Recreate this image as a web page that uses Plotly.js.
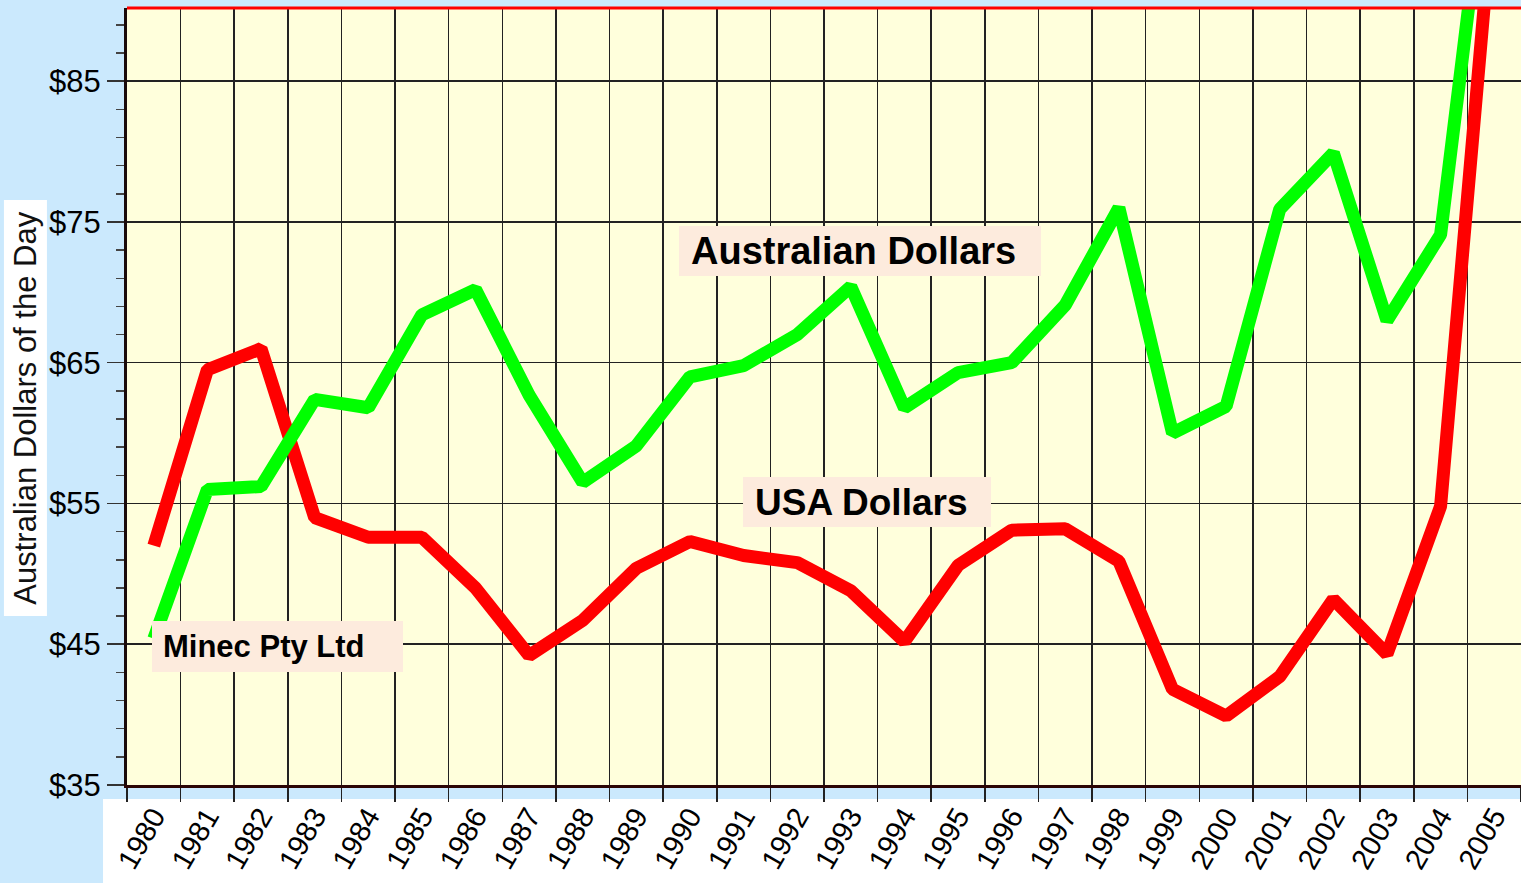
<!DOCTYPE html>
<html>
<head>
<meta charset="utf-8">
<script src="https://cdn.plot.ly/plotly-3.0.1.min.js"></script>
<style>
  html, body { margin: 0; padding: 0; background: #cbe9fd; }
  #chart { width: 1521px; height: 883px; }
  #chart .scatterlayer .js-line { stroke-linejoin: bevel !important; stroke-linecap: butt !important; }
</style>
</head>
<body>
<div id="chart"></div>
<script>
// Data
const years = ['1980','1981','1982','1983','1984','1985','1986','1987','1988','1989',
               '1990','1991','1992','1993','1994','1995','1996','1997','1998','1999',
               '2000','2001','2002','2003','2004','2005'];
const usaDollars = [52.0, 64.5, 66.0, 54.0, 52.6, 52.6, 49.0, 44.2, 46.7, 50.4,
                    52.3, 51.3, 50.8, 48.8, 45.2, 50.6, 53.1, 53.2, 50.9, 41.8,
                    39.9, 42.7, 48.2, 44.3, 54.8, 98.5];
const audDollars = [45.4, 56.0, 56.2, 62.4, 61.8, 68.4, 70.2, 62.7, 56.5, 59.1,
                    64.0, 64.8, 67.0, 70.4, 61.8, 64.3, 65.0, 69.1, 76.0, 60.0,
                    61.9, 75.9, 79.9, 68.0, 74.1, 105.0];

const labelAud = 'Australian Dollars';
const labelUsa = 'USA Dollars';
const labelCompany = 'Minec Pty Ltd';
const yTitle = 'Australian Dollars of the Day';

const FONT = 'Liberation Sans, Arial, Helvetica, sans-serif';

const traces = [
  {
    x: years, y: usaDollars, type: 'scatter', mode: 'lines', name: labelUsa,
    line: { color: '#ff0000', width: 13 }, hoverinfo: 'skip'
  },
  {
    x: years, y: audDollars, type: 'scatter', mode: 'lines', name: labelAud,
    line: { color: '#00ff00', width: 13 }, hoverinfo: 'skip'
  }
];

const annBg = '#fdebdd';

function box(x0, x1, y0, y1) {
  return { type: 'rect', xref: 'paper', yref: 'paper', x0: x0, x1: x1, y0: y0, y1: y1,
           fillcolor: annBg, line: { width: 0 }, layer: 'above' };
}

const layout = {
  width: 1521, height: 883,
  margin: { l: 127, r: 0, t: 8, b: 98, pad: 0 },
  paper_bgcolor: '#cbe9fd',
  plot_bgcolor: '#ffffdc',
  showlegend: false,
  hovermode: false,
  font: { family: FONT, color: '#000' },
  xaxis: {
    type: 'category',
    categoryorder: 'array', categoryarray: years,
    range: [-0.5, 25.5],
    tickson: 'boundaries',
    ticks: 'outside', ticklen: 14, tickwidth: 1.5, tickcolor: '#222',
    showgrid: true, gridcolor: '#222', gridwidth: 1.5,
    showline: true, linecolor: '#2a0505', linewidth: 3,
    tickangle: -60,
    tickfont: { family: FONT, size: 29, color: '#000' },
    zeroline: false, fixedrange: true
  },
  yaxis: {
    range: [35, 90.2],
    tickmode: 'linear', tick0: 35, dtick: 10,
    tickprefix: '$',
    ticks: 'outside', ticklen: 17, tickwidth: 1.5, tickcolor: '#333',
    minor: { tick0: 35, dtick: 2, ticks: 'outside', ticklen: 8, tickwidth: 1.5, tickcolor: '#444', showgrid: false },
    showgrid: true, gridcolor: '#222', gridwidth: 1.5,
    showline: true, linecolor: '#1a0a0a', linewidth: 3,
    tickfont: { family: FONT, size: 31, color: '#000' },
    ticklabelstandoff: 0,
    zeroline: false, fixedrange: true
  },
  shapes: [
    // white band behind the year labels
    { type: 'rect', xref: 'paper', yref: 'paper', x0: -0.0172, x1: 1.01, y0: -0.2, y1: -0.018,
      fillcolor: '#ffffff', line: { width: 0 }, layer: 'below' },
    // red top border
    { type: 'line', xref: 'paper', yref: 'paper', x0: 0, x1: 1, y0: 1, y1: 1,
      line: { color: '#ff0000', width: 3 } },
    // label boxes
    box(0.3960, 0.6557, 0.6551, 0.7194),
    box(0.4419, 0.6198, 0.3320, 0.3964),
    box(0.01793, 0.1980, 0.1454, 0.2111)
  ],
  annotations: [
    { text: yTitle, xref: 'paper', yref: 'paper', x: -0.0732, y: 0.4858,
      xanchor: 'center', yanchor: 'middle', showarrow: false, textangle: -90,
      bgcolor: '#ffffff', width: 415, height: 42, borderpad: 0,
      font: { family: FONT, size: 31, color: '#111' } },
    { text: '<b>' + labelAud + '</b>', xref: 'paper', yref: 'paper', x: 0.5215, y: 0.6873,
      xanchor: 'center', yanchor: 'middle', showarrow: false,
      font: { family: FONT, size: 38, color: '#000' } },
    { text: '<b>' + labelUsa + '</b>', xref: 'paper', yref: 'paper', x: 0.5269, y: 0.3642,
      xanchor: 'center', yanchor: 'middle', showarrow: false,
      font: { family: FONT, size: 37, color: '#000' } },
    { text: '<b>' + labelCompany + '</b>', xref: 'paper', yref: 'paper', x: 0.0983, y: 0.1783,
      xanchor: 'center', yanchor: 'middle', showarrow: false,
      font: { family: FONT, size: 31, color: '#000' } }
  ]
};

Plotly.newPlot('chart', traces, layout, { displayModeBar: false, staticPlot: true });
</script>
</body>
</html>
